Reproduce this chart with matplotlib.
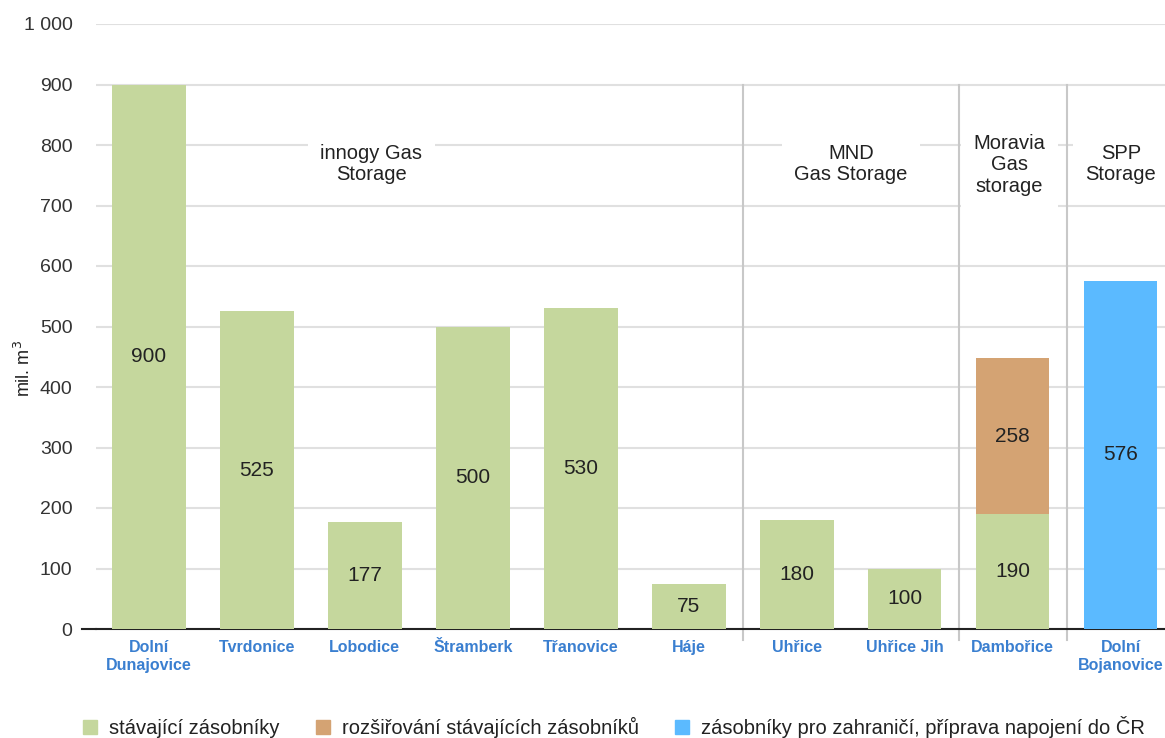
import matplotlib.pyplot as plt
from matplotlib.patches import Patch
import numpy as np

plt.rcParams["font.family"] = ["Liberation Sans", "DejaVu Sans"]

# ========= data =========
sites = ["Dolní\nDunajovice", "Tvrdonice", "Lobodice", "Štramberk", "Třanovice",
         "Háje", "Uhřice", "Uhřice Jih", "Dambořice", "Dolní\nBojanovice"]
existing = [900, 525, 177, 500, 530, 75, 180, 100, 190, 0]
expansion = [0, 0, 0, 0, 0, 0, 0, 0, 258, 0]
foreign = [0, 0, 0, 0, 0, 0, 0, 0, 0, 576]

groups = ["innogy Gas\nStorage", "MND\nGas Storage", "Moravia\nGas\nstorage", "SPP\nStorage"]
group_x = [2.06, 6.5, 7.97, 9.0]
group_y = [768, 768, 767, 768]
separators = [5.5, 7.5, 8.5]

legend_labels = ["stávající zásobníky", "rozšiřování stávajících zásobníků",
                 "zásobníky pro zahraničí, příprava napojení do ČR"]

GREEN = "#c5d79d"
TAN = "#d4a373"
BLUE = "#5bbaff"
TXT = "#333333"

fig = plt.figure(figsize=(11.65, 7.38), dpi=100)
ax = fig.add_axes([96 / 1165, 1 - 629 / 738, 1 - 96 / 1165, (629 - 24) / 738])

x = np.arange(len(sites))
w = 0.68

ex = np.array(existing)
b1 = ax.bar(x, ex, w, color=GREEN, zorder=3)
b2 = ax.bar(x, expansion, w, bottom=ex, color=TAN, zorder=3)
b3 = ax.bar(x, foreign, w, color=BLUE, zorder=3)

for bars, vals in [(b1, existing), (b2, expansion), (b3, foreign)]:
    labels = [str(v) if v else "" for v in vals]
    ax.bar_label(bars, labels=labels, label_type="center", fontsize=15, color="#222222")

ax.set_xlim(-0.49, 9.41)
ax.set_ylim(0, 1000)
ax.set_yticks(range(0, 1001, 100))
ax.set_yticklabels([f"{v:,}".replace(",", " ") for v in range(0, 1001, 100)])
ax.yaxis.grid(True, color="#e0e0e0", linewidth=1.5, zorder=0)
ax.set_axisbelow(True)
ax.tick_params(axis="y", length=0, pad=17, labelsize=14, labelcolor=TXT)
ax.tick_params(axis="x", length=0, pad=8)
ax.set_xticks(x)
ax.set_xticklabels(sites, fontsize=11.5, fontweight="bold", color="#3a7fd0", linespacing=1.2)

for s in ["top", "right", "left"]:
    ax.spines[s].set_visible(False)
ax.spines["bottom"].set_color("#222222")
ax.spines["bottom"].set_linewidth(1.5)
ax.plot([-0.62, -0.49], [0, 0], color="#222222", lw=1.5, clip_on=False)

for sx in separators:
    ax.plot([sx, sx], [-18, 900], color="#c8c8c8", lw=1.5, zorder=2, clip_on=False)

for g, gx, gy in zip(groups, group_x, group_y):
    ax.text(gx, gy, g, ha="center", va="center", fontsize=14.5, color="#222222",
            linespacing=1.15, zorder=4,
            bbox=dict(facecolor="white", edgecolor="none", pad=9))

ax.set_ylabel("mil. m$^3$", fontsize=13, color="#222222")
ax.yaxis.set_label_coords(-0.058, 0.43)

handles = [Patch(color=c) for c in [GREEN, TAN, BLUE]]
fig.legend(handles, legend_labels, loc="center", bbox_to_anchor=(0.527, 0.015),
           ncol=3, frameon=False, fontsize=14.5, handlelength=0.7, handleheight=0.7,
           handletextpad=0.6, columnspacing=1.8, labelcolor="#222222")

fig.savefig("out.png", dpi=100)
